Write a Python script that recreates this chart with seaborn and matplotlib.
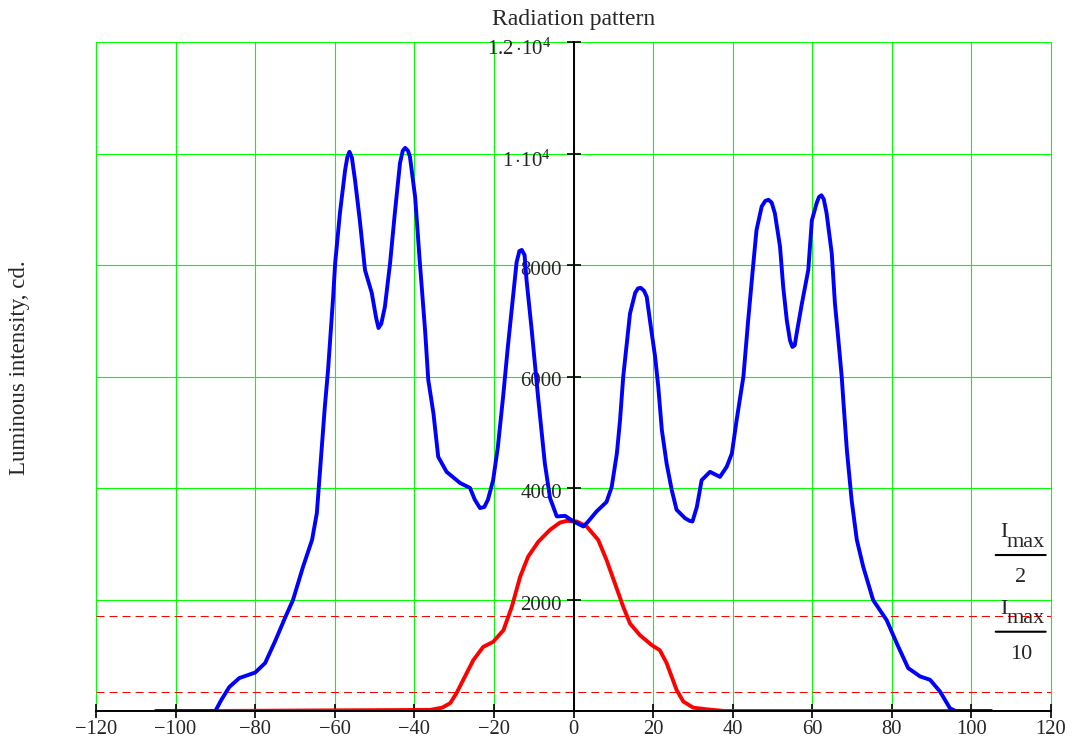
import numpy as np
import pandas as pd
import matplotlib
matplotlib.use("Agg")
import matplotlib.pyplot as plt
import matplotlib.transforms as mtrans
import seaborn as sns

# ---------------- data ----------------
blue_angle = [-105, -95, -90, -88.5, -86.5, -84, -80, -77.5, -75, -72.5, -70.5, -68,
              -65.7, -64.5, -63.5, -62.5, -61.7, -60.4, -59.9, -58.7, -57.4, -56.8, -56.3,
              -55.7, -54.9, -53.7, -52.4, -50.7, -49.6, -49, -48.3, -47.4, -46.1, -44.9,
              -43.6, -42.9, -42.3, -41.6, -41.1, -39.8, -38.6, -37.3, -36.5, -35.2, -34,
              -31.9, -28.5, -26, -24.8, -23.5, -22.4, -21.5, -20.2, -19, -17.7, -16.5,
              -15.2, -14.3, -13.6, -13.0, -12.3, -11.8, -10.5, -8.9, -7.2, -5.9, -4.2,
              -2.1, 0, 2.5, 3.7, 5.8, 8.3, 9.6, 10.9, 11.7, 12.5, 13.4, 14.2, 15.5,
              16.2, 16.9, 17.7, 18.4, 19.2, 20.5, 21.3, 22.2, 23.4, 24.7, 25.9, 28,
              29.2, 29.9, 31, 32.2, 34.3, 36.8, 38.5, 39.8, 41, 42.7, 43.9, 45.2, 46,
              47.3, 48.2, 49, 49.8, 50.6, 51.9, 52.7, 53.6, 54.4, 55.0, 55.6, 56.1,
              57.4, 59, 59.9, 61.1, 61.7, 62.3, 62.9, 63.6, 64.9, 65.7, 66.5, 67.4,
              67.8, 68.7, 69.9, 71.2, 72.8, 75.3, 78.7, 81.2, 84.1, 87.1, 89.6, 92.1,
              94.6, 96, 105]
blue_intensity = [0, 0, 0, 200, 430, 590, 690, 860, 1250, 1670, 1990, 2580,
                  3070, 3550, 4500, 5450, 6100, 7430, 8030, 8930, 9700, 9950, 10030,
                  9930, 9520, 8800, 7910, 7500, 7050, 6870, 6950, 7250, 8030, 8930,
                  9830, 10050, 10100, 10050, 9940, 9220, 8030, 6830, 5940, 5340, 4560,
                  4290, 4090, 4000, 3790, 3640, 3660, 3790, 4140, 4740, 5630, 6530,
                  7430, 8050, 8250, 8270, 8180, 7730, 6830, 5630, 4440, 3820, 3490,
                  3500, 3400, 3310, 3400, 3580, 3750, 4020, 4620, 5220, 6000, 6600, 7130, 7500,
                  7580, 7590, 7540, 7430, 7010, 6360, 5820, 5040, 4440, 3960, 3610, 3460,
                  3410, 3400, 3660, 4140, 4290, 4200, 4380, 4620, 5220, 6000, 7010, 8030, 8630,
                  9050, 9150, 9170, 9120, 8930, 8330, 7610, 7010, 6650, 6530, 6560, 6780,
                  7310, 7910, 8800, 9110, 9220, 9250, 9180, 8930, 8210, 7310, 6710, 6000,
                  5580, 4680, 3780, 3070, 2590, 1990, 1630, 1220, 770, 620, 560, 350,
                  50, 0, 0]

red_angle = [-91, -36, -33, -31, -29.4, -27.7, -25.2, -22.7, -20.2, -17.6, -15.5,
             -13.4, -11.4, -8.8, -5.9, -3.4, -1.7, 0.8, 3.3, 6.2, 8.3, 10.4, 12.5,
             14.2, 16.7, 19.7, 21.7, 23.4, 25.9, 27.6, 30.1, 33.5, 38, 95]
red_intensity = [0, 20, 60, 140, 320, 560, 910, 1150, 1240, 1450, 1870,
                 2410, 2770, 3040, 3250, 3380, 3410, 3400, 3310, 3070, 2710, 2290, 1870,
                 1570, 1360, 1180, 1090, 860, 380, 170, 60, 30, 0, 0]

x_ticks = [-120, -100, -80, -60, -40, -20, 0, 20, 40, 60, 80, 100, 120]
y_ticks = [0, 2000, 4000, 6000, 8000, 10000, 12000]
y_tick_labels = ["", "2000", "4000", "6000", "8000",
                 r"$1\,{\cdot}10^{4}$", r"$1.2\,{\cdot}10^{4}$"]
title = "Radiation pattern"
y_label = "Luminous intensity, cd."
fractions = [2, 10]

# ---------------- style ----------------
sns.set_theme(style="white")
plt.rcParams["font.family"] = ["Liberation Serif", "DejaVu Serif"]
plt.rcParams["mathtext.fontset"] = "custom"
plt.rcParams["mathtext.rm"] = "Liberation Serif"
plt.rcParams["mathtext.it"] = "Liberation Serif:italic"
plt.rcParams["axes.unicode_minus"] = True

df = pd.concat([
    pd.DataFrame({"angle": red_angle, "intensity": red_intensity, "series": "red"}),
    pd.DataFrame({"angle": blue_angle, "intensity": blue_intensity, "series": "blue"}),
], ignore_index=True)

fig = plt.figure(figsize=(10.76, 7.43), dpi=100)
ax = fig.add_axes([96 / 1076, 32 / 743, 955 / 1076, 669 / 743])

sns.lineplot(data=df, x="angle", y="intensity", hue="series",
             hue_order=["red", "blue"],
             palette={"red": "#ff0000", "blue": "#0000ff"},
             sort=False, estimator=None, legend=False, linewidth=2.8, ax=ax)

imax = max(red_intensity)
for d in fractions:
    ax.axhline(imax / d, color="#ff0000", lw=0.75, ls=(0, (7.7, 4.8)), zorder=1.5)

ax.set_xlim(-120, 120)
ax.set_ylim(0, 12000)
ax.set_xticks(x_ticks)
ax.set_yticks(y_ticks)
ax.set_yticklabels(y_tick_labels)
ax.set_xlabel("")
ax.set_ylabel("")

ax.grid(True, color="#00ff00", lw=0.8)
ax.set_axisbelow(True)
for gl in ax.get_xgridlines() + ax.get_ygridlines():
    gl.set_clip_on(False)

for s in ["top", "right"]:
    ax.spines[s].set_visible(False)
ax.spines["left"].set_position(("data", 0))
for s in ["left", "bottom"]:
    ax.spines[s].set_color("black")
    ax.spines[s].set_linewidth(1.4)
    ax.spines[s].set_zorder(3)

ax.tick_params(axis="x", direction="inout", length=9.6, width=1.2, color="black",
               labelsize=14.8, pad=2, bottom=True)
ax.tick_params(axis="y", direction="inout", length=9.6, width=1.2, color="black",
               labelsize=15, pad=3.5, left=True)
for i, lab in enumerate(ax.get_yticklabels()):
    dx = -11 / 100 if "cdot" in y_tick_labels[i] else 0
    dy = -5 / 100 if "cdot" in y_tick_labels[i] else -3 / 100
    shift = mtrans.ScaledTranslation(dx, dy, fig.dpi_scale_trans)
    lab.set_transform(lab.get_transform() + shift)

fig.text(573.5 / 1076, 1 - 20 / 743, title, ha="center", va="center", fontsize=17)
fig.text(20 / 1076, 1 - 368 / 743, y_label, ha="center", va="center",
         rotation=90, fontsize=16.5)

# I_max / n annotations at right edge
xc = 112.4
bar_y = {2: 2798, 10: 1422}
for d in fractions:
    yc = bar_y[d]
    ax.annotate("I", xy=(xc, yc), xytext=(-14.5, 12.8), textcoords="offset points",
                ha="left", va="baseline", fontsize=16)
    ax.annotate("max", xy=(xc, yc), xytext=(-10.5, 6.0), textcoords="offset points",
                ha="left", va="baseline", fontsize=16)
    ax.annotate("", xy=(xc - 6.3, yc), xytext=(36, 0), textcoords="offset points",
                arrowprops=dict(arrowstyle="-", lw=1.5, color="black",
                                shrinkA=0, shrinkB=0))
    ax.annotate(str(d), xy=(xc, yc), xytext=(0, -19.5), textcoords="offset points",
                ha="center", va="baseline", fontsize=16)

fig.savefig("out.png", dpi=100)
